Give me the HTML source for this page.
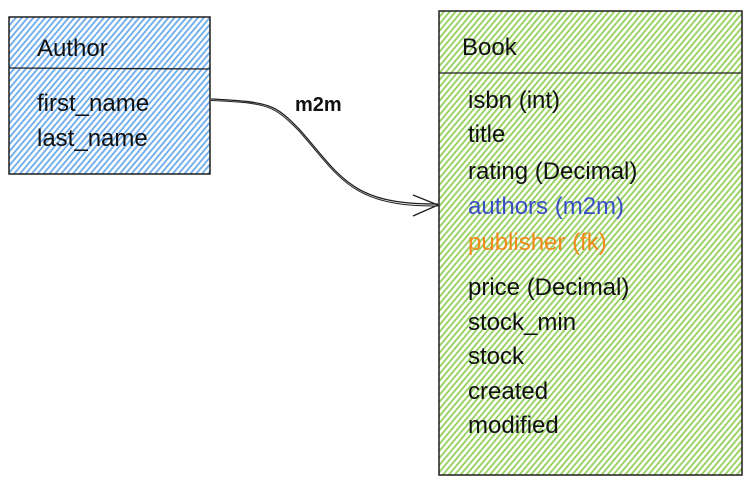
<!DOCTYPE html>
<html><head><meta charset="utf-8"><style>
html,body{margin:0;padding:0;background:#fff;width:751px;height:485px;overflow:hidden}
</style></head><body>
<svg width="751" height="485" viewBox="0 0 751 485" xmlns="http://www.w3.org/2000/svg">
<defs>
<pattern id="hb" width="4.5" height="5" patternUnits="userSpaceOnUse" patternTransform="rotate(40)">
<rect width="5" height="5" fill="#fff"/><line x1="1" y1="0" x2="1" y2="5" stroke="#6aaaea" stroke-width="1.8"/>
</pattern>
<pattern id="hg" width="4.5" height="5" patternUnits="userSpaceOnUse" patternTransform="rotate(40)">
<rect width="5" height="5" fill="#fff"/><line x1="1" y1="0" x2="1" y2="5" stroke="#92d05a" stroke-width="1.8"/>
</pattern>
</defs>
<rect x="9" y="17" width="201" height="157" fill="url(#hb)" stroke="#1e1e1e" stroke-width="1.5"/>
<line x1="9" y1="68" x2="210" y2="69" stroke="#1e1e1e" stroke-width="1.3"/>
<rect x="439" y="11" width="303" height="464" fill="url(#hg)" stroke="#1e1e1e" stroke-width="1.5"/>
<line x1="439" y1="73" x2="741" y2="73" stroke="#1e1e1e" stroke-width="1.3"/>
<path d="M211 99 C270 102,275 104,300 130 C340 175,350 205,438 204" fill="none" stroke="#1e1e1e" stroke-width="1.3"/>
<path d="M211 100.5 C270 103,274 106,299 131 C339 176,350 207,438 206" fill="none" stroke="#1e1e1e" stroke-width="1"/>
<path d="M413 195 L438 205 L413 216" fill="none" stroke="#1e1e1e" stroke-width="1.3"/>
<g font-family="Liberation Sans, sans-serif" font-size="24" fill="#111">
<text x="37" y="56">Author</text>
<text x="37" y="111">first_name</text>
<text x="37" y="146">last_name</text>
<text x="295" y="111" font-size="20" font-weight="bold">m2m</text>
<text x="462" y="55">Book</text>
<text x="468" y="108">isbn (int)</text>
<text x="468" y="142">title</text>
<text x="468" y="179">rating (Decimal)</text>
<text x="468" y="214" fill="#3b4fc4">authors (m2m)</text>
<text x="468" y="250" fill="#f08a1a">publisher (fk)</text>
<text x="468" y="295">price (Decimal)</text>
<text x="468" y="330">stock_min</text>
<text x="468" y="364">stock</text>
<text x="468" y="399">created</text>
<text x="468" y="433">modified</text>
</g>
</svg>
</body></html>
